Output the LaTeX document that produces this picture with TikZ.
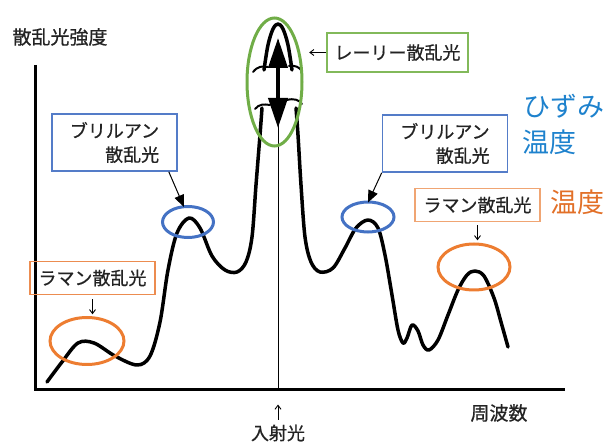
\documentclass[tikz,border=0pt]{standalone}
\usepackage{fontspec}
\setmainfont{Noto Sans CJK JP}
\newfontfamily\medfont{Noto Sans CJK JP}[UprightFeatures={FakeBold=0.7}]
\usetikzlibrary{shapes.geometric,arrows.meta,calc}
\definecolor{txt}{RGB}{35,35,35}
\definecolor{bell}{RGB}{68,114,196}
\definecolor{bbox}{RGB}{84,124,200}
\definecolor{oell}{RGB}{237,125,49}
\definecolor{obox}{RGB}{236,140,80}
\definecolor{obox2}{RGB}{240,165,115}
\definecolor{gell}{RGB}{112,173,71}
\definecolor{gbox}{RGB}{130,185,90}
\definecolor{btxt}{RGB}{30,130,205}
\definecolor{otxt}{RGB}{226,112,40}
\begin{document}
\begin{tikzpicture}[x=1pt,y=-1pt,
  lbl/.style={font=\medfont\fontsize{18}{24}\selectfont, text=txt, align=right, inner sep=0pt},
  bluebox/.style={lbl, draw=bbox, line width=1.6pt, minimum width=125pt, minimum height=57pt},
  orbox/.style={lbl, line width=1.6pt, minimum width=125pt, minimum height=33pt},
  ell/.style={ellipse, draw, line width=3pt, inner sep=0pt},
  curve/.style={line width=3.5pt, line cap=round, line join=round},
  brk/.style={line width=2pt, line cap=round},
  thinarr/.style={line width=0.9pt, -{Straight Barb[length=4pt,width=6pt]}},
  briarr/.style={line width=1pt, -{Triangle[length=12pt,width=10pt]}},
  big/.style={font=\fontsize{27}{32}\selectfont, inner sep=0pt, anchor=west}
]
\useasboundingbox (0,0) rectangle (611,446);

% axes
\coordinate (ytop) at (35,65);
\coordinate (orig) at (35,390);
\coordinate (xend) at (565,390);
\draw[line width=3pt] (ytop) -- (orig) -- (xend);

% thin incident line
\coordinate (lt) at (278,40);
\coordinate (lb) at (278,389);
\draw[line width=1pt] (lt) -- (lb);

% spectrum curve
\draw[curve] plot[smooth, tension=0.55] coordinates {(47,382) (62,362) (78,343) (94,343) (115,356) (137,365) (150,356) (160,322) (168,270) (177,233) (189,218) (200,228) (212,256) (225,270) (237,272) (246,262) (252,237) (256,185) (260,135) (262,108)};
\draw[curve] plot[smooth, tension=0.55] coordinates {(296,108) (298,135) (301,185) (305,237) (311,262) (320,272) (333,268) (345,248) (356,228) (368,220) (378,228) (385,255) (392,295) (398,330) (403,343) (407,338) (412,325) (418,331) (423,345) (429,350) (438,340) (448,315) (458,290) (467,275) (475,271) (484,276) (494,298) (501,322) (508,347)};
\draw[curve] plot[smooth, tension=0.6] coordinates {(264,70) (268,45) (273,29) (278,24) (283,29) (288,45) (292,70)};
% break marks
\draw[brk] (253,72) .. controls (258,66) and (262,66) .. (268,67);
\draw[brk] (289,66) .. controls (295,65) and (299,67) .. (302,71);
\draw[brk] (255,109) .. controls (259,104) and (264,104) .. (270,105);
\draw[brk] (287,100) .. controls (294,98) and (299,100) .. (302,104);

% double arrow
\coordinate (at) at (278,38);
\coordinate (ab) at (278,128);
\draw[line width=4pt, {Triangle[length=30pt,width=19pt]}-{Triangle[length=30pt,width=19pt]}] (at) -- (ab);

% ellipses
\node[ell, draw=gell, minimum width=55pt, minimum height=128pt] (ge) at (274.5,82) {};
\node[ell, draw=bell, minimum width=51pt, minimum height=31pt] (ble) at (188,222) {};
\node[ell, draw=bell, minimum width=52pt, minimum height=30pt] (bre) at (368,217) {};
\node[ell, draw=oell, minimum width=74pt, minimum height=47pt] (lre) at (87,341) {};
\node[ell, draw=oell, minimum width=72pt, minimum height=46pt] (rre) at (474,267) {};

% boxes
\node[bluebox] (lb1) at (114.5,142.5) {ブリルアン\\散乱光};
\node[bluebox] (rb1) at (445,143.5) {ブリルアン\\散乱光};
\node[lbl, draw=gbox, line width=1.6pt, minimum width=141pt, minimum height=39pt, align=center] (ray) at (397.5,52.5) {レーリー散乱光};
\node[orbox, draw=obox] (lrm) at (92.5,278) {ラマン散乱光};
\node[orbox, draw=obox2] (rrm) at (477.5,205) {ラマン散乱光};

% arrows from boxes
\draw[briarr] ([xshift=-9pt]lb1.south east) -- ([xshift=-4pt,yshift=-2pt]ble.north);
\draw[briarr] (rb1.south west) -- ([yshift=-2pt]bre.north);
\draw[thinarr] (ray.west) -- ++(-17,0);
\draw[thinarr] (lrm.south) ++(0,4) -- ++(0,15);
\draw[thinarr] (rrm.south) ++(0,3) -- ++(0,15);

% axis labels
\node[lbl, font=\medfont\fontsize{19}{24}\selectfont] (ylab) at (60,37) {散乱光強度};
\node[lbl, font=\medfont\fontsize{19}{24}\selectfont] (xlab) at (499,413) {周波数};
\node[lbl] (inc) at (278,433) {入射光};
\draw[thinarr] (inc.north) ++(0,-5) -- ++(0,-15);

% colored notes
\node[big, text=btxt] (hz) at (523,106) {ひずみ};
\node[big, text=btxt] (ond1) at (522,142) {温度};
\node[big, text=otxt] (ond2) at (550,202) {温度};
\end{tikzpicture}
\end{document}
